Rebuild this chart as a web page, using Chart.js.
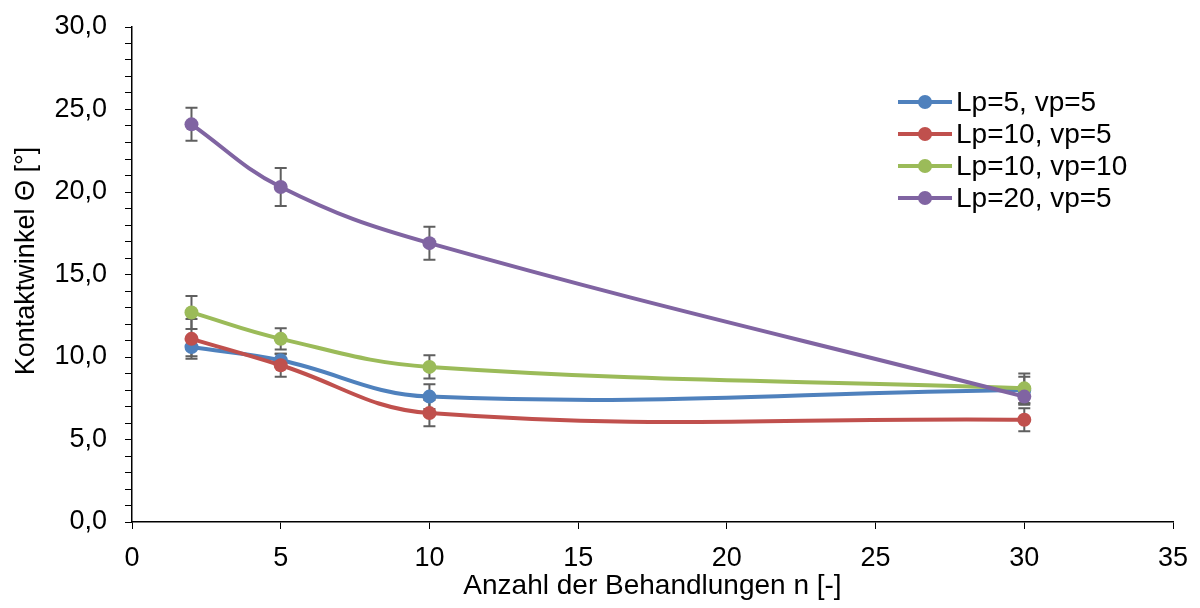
<!DOCTYPE html>
<html>
<head>
<meta charset="utf-8">
<script src="https://cdn.jsdelivr.net/npm/chart.js@4"></script>
<style>
  html, body { margin: 0; padding: 0; background: #fff; }
  #wrap { width: 1200px; height: 608px; }
</style>
</head>
<body>
<div id="wrap"><canvas id="chart" width="1200" height="608"></canvas></div>
<script>
// Daten
const behandlungen = [2, 5, 10, 30];
const seriesLabels = ['Lp=5, vp=5', 'Lp=10, vp=5', 'Lp=10, vp=10', 'Lp=20, vp=5'];
const lp5vp5 = [10.6, 9.8, 7.6, 8.0];
const lp5vp5Err = [0.55, 0.4, 0.75, 0.8];
const lp10vp5 = [11.1, 9.5, 6.6, 6.2];
const lp10vp5Err = [1.2, 0.7, 0.8, 0.7];
const lp10vp10 = [12.7, 11.1, 9.4, 8.1];
const lp10vp10Err = [1.0, 0.65, 0.7, 0.9];
const lp20vp5 = [24.1, 20.3, 16.9, 7.6];
const lp20vp5Err = [1.0, 1.15, 1.0, 0.5];
const colors = ['#4F81BD', '#C0504D', '#9BBB59', '#8064A2'];
const yTitle = 'Kontaktwinkel Θ [°]';
const xTitle = 'Anzahl der Behandlungen n [-]';

const values = [lp5vp5, lp10vp5, lp10vp10, lp20vp5];
const errors = [lp5vp5Err, lp10vp5Err, lp10vp10Err, lp20vp5Err];

const FONT = "'Liberation Sans', Arial, sans-serif";

const datasets = values.map((vals, i) => ({
    label: seriesLabels[i],
    data: behandlungen.map((x, j) => ({ x: x, y: vals[j] })),
    borderColor: colors[i],
    backgroundColor: colors[i],
    borderWidth: 4,
    pointRadius: 7,
    pointHoverRadius: 7,
    pointBorderWidth: 0,
    tension: 0.4,
    errors: errors[i],
    order: 4 - i
}));

// Fehlerbalken
const errorBars = {
    id: 'errorBars',
    beforeDatasetsDraw(chart) {
        const ctx = chart.ctx;
        const xs = chart.scales.x, ys = chart.scales.y;
        ctx.save();
        ctx.strokeStyle = '#5f5f5f';
        ctx.lineWidth = 2;
        chart.data.datasets.forEach(ds => {
            ds.data.forEach((p, j) => {
                const e = ds.errors[j];
                const px = xs.getPixelForValue(p.x);
                const top = ys.getPixelForValue(p.y + e);
                const bot = ys.getPixelForValue(p.y - e);
                ctx.beginPath();
                ctx.moveTo(px, top); ctx.lineTo(px, bot);
                ctx.moveTo(px - 6, top); ctx.lineTo(px + 6, top);
                ctx.moveTo(px - 6, bot); ctx.lineTo(px + 6, bot);
                ctx.stroke();
            });
        });
        ctx.restore();
    }
};

// Legende + y-Titel (Excel setzt den Titel etwas oberhalb der Mitte)
const lineLegend = {
    id: 'lineLegend',
    afterDraw(chart) {
        const ctx = chart.ctx;
        ctx.save();
        ctx.font = '28px ' + FONT;
        ctx.textBaseline = 'middle';
        chart.data.datasets.forEach((ds, i) => {
            const y = 102 + i * 32;
            ctx.strokeStyle = ds.borderColor;
            ctx.lineWidth = 4;
            ctx.beginPath();
            ctx.moveTo(898, y); ctx.lineTo(952, y);
            ctx.stroke();
            ctx.fillStyle = ds.borderColor;
            ctx.beginPath();
            ctx.arc(925, y, 7, 0, Math.PI * 2);
            ctx.fill();
            ctx.fillStyle = '#000';
            ctx.fillText(ds.label, 956, y + 1);
        });
        ctx.restore();

        ctx.save();
        ctx.translate(27, 261);
        ctx.rotate(-Math.PI / 2);
        ctx.font = '27px ' + FONT;
        ctx.textAlign = 'center';
        ctx.textBaseline = 'middle';
        ctx.fillStyle = '#000';
        ctx.fillText(yTitle, 0, 0);
        ctx.restore();
    }
};

new Chart(document.getElementById('chart'), {
    type: 'line',
    data: { datasets: datasets },
    plugins: [errorBars, lineLegend],
    options: {
        responsive: false,
        devicePixelRatio: 1,
        animation: false,
        layout: { padding: { left: 0, right: 27, top: 27, bottom: 0 } },
        plugins: {
            legend: { display: false },
            tooltip: { enabled: false }
        },
        scales: {
            x: {
                type: 'linear',
                min: 0,
                max: 35,
                afterFit: s => { s.height = 86; s.paddingLeft = 0; s.paddingRight = 0; },
                ticks: {
                    stepSize: 5,
                    padding: 13,
                    color: '#000',
                    font: { family: FONT, size: 27 }
                },
                grid: { drawOnChartArea: false, drawTicks: true, tickLength: 7, color: '#000' },
                border: { color: '#000', width: 1.5 },
                title: {
                    display: true,
                    text: xTitle,
                    color: '#000',
                    font: { family: FONT, size: 28 },
                    padding: { top: 0, bottom: 5 }
                }
            },
            y: {
                min: 0,
                max: 30,
                afterFit: s => { s.width = 132; s.paddingTop = 0; s.paddingBottom = 0; },
                ticks: {
                    stepSize: 1,
                    autoSkip: false,
                    padding: 18,
                    color: '#000',
                    font: { family: FONT, size: 27 },
                    callback: v => (v % 5 === 0 ? v.toFixed(1).replace('.', ',') : '')
                },
                grid: { drawOnChartArea: false, drawTicks: true, tickLength: 7, color: '#000' },
                border: { color: '#000', width: 1.5 }
            }
        }
    }
});
</script>
</body>
</html>
